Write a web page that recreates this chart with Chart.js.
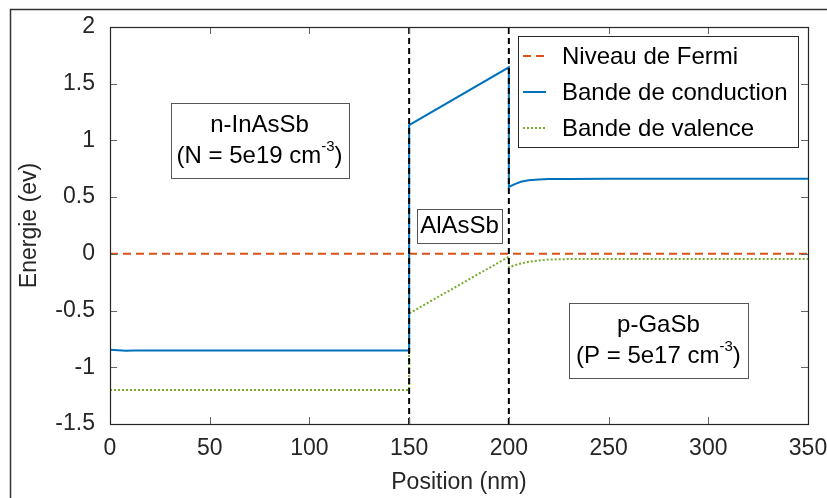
<!DOCTYPE html>
<html>
<head>
<meta charset="utf-8">
<script src="https://cdn.jsdelivr.net/npm/chart.js@4/dist/chart.umd.min.js"></script>
<style>
  html, body { margin: 0; padding: 0; background: #fff; }
  canvas { display: block; }
</style>
</head>
<body>
<canvas id="bandChart" width="827" height="498"></canvas>
<script>
// positions (nm) and energies (eV)
var fermiX = [0, 350];
var fermiY = [0, 0];

var condX = [0, 4, 8, 12, 150, 150, 200, 200, 203, 206, 210, 215, 220, 230, 250, 350];
var condY = [-0.845, -0.85, -0.855, -0.852, -0.852, 1.135, 1.645, 0.59, 0.615, 0.635, 0.648, 0.655, 0.659, 0.661, 0.662, 0.662];

var valX = [0, 150, 150, 200, 200, 203, 206, 210, 215, 220, 230, 250, 350];
var valY = [-1.2, -1.2, -0.525, -0.025, -0.12, -0.1, -0.085, -0.07, -0.058, -0.05, -0.046, -0.045, -0.045];

var interfaces = [150, 200];

var xTicksStep = 50;
var yTicksStep = 0.5;

var FONT = '"Liberation Sans", Arial, Helvetica, sans-serif';
var FS = 23;   // axes
var FS2 = 24;  // legend and text boxes
var TXT = '#262626';

function pts(xs, ys) {
    return xs.map(function (x, i) { return { x: x, y: ys[i] }; });
}

var datasets = [
    {
        label: 'Niveau de Fermi', data: pts(fermiX, fermiY),
        borderColor: '#D95319', borderWidth: 2, borderDash: [8, 5], order: 3
    },
    {
        label: 'Bande de conduction', data: pts(condX, condY),
        borderColor: '#0072BD', borderWidth: 2, order: 2
    },
    {
        label: 'Bande de valence', data: pts(valX, valY),
        borderColor: '#77AC30', borderWidth: 2, borderDash: [2, 2], order: 2
    }
];
interfaces.forEach(function (xi) {
    datasets.push({
        label: '', data: [{ x: xi, y: -1.5 }, { x: xi, y: 2 }],
        borderColor: '#000', borderWidth: 2, borderDash: [6, 4], order: 0
    });
});

// text boxes placed in data coordinates
var notes = [
    { x: 75, y: 1.0, w: 178, h: 75, lines: [[['n-InAsSb', 0]], [['(N = 5e19 cm', 0], ['-3', 1], [')', 0]]] },
    { x: 175.3, y: 0.246, w: 85, h: 34, lines: [[['AlAsSb', 0]]] },
    { x: 275, y: -0.763, w: 179, h: 75, lines: [[['p-GaSb', 0]], [['(P = 5e17 cm', 0], ['-3', 1], [')', 0]]] }
];

function drawRich(ctx, segs, cx, cy) {
    var big = FS2 + 'px ' + FONT, small = '15px ' + FONT;
    var total = 0;
    segs.forEach(function (s) {
        ctx.font = s[1] ? small : big;
        total += ctx.measureText(s[0]).width;
    });
    var x = cx - total / 2;
    ctx.textAlign = 'left';
    ctx.textBaseline = 'middle';
    segs.forEach(function (s) {
        ctx.font = s[1] ? small : big;
        ctx.fillText(s[0], x, s[1] ? cy - 9 : cy);
        x += ctx.measureText(s[0]).width;
    });
}

var matlabLook = {
    id: 'matlabLook',
    beforeDraw: function (chart) {
        var ctx = chart.ctx;
        ctx.save();
        ctx.fillStyle = '#fff';
        ctx.fillRect(0, 0, chart.width, chart.height);
        ctx.strokeStyle = '#333';
        ctx.lineWidth = 1.5;
        ctx.beginPath();
        ctx.moveTo(10.5, chart.height);
        ctx.lineTo(10.5, 9.5);
        ctx.lineTo(chart.width, 9.5);
        ctx.stroke();
        ctx.restore();
    },
    afterDatasetsDraw: function (chart) {
        var ctx = chart.ctx, a = chart.chartArea;
        var xs = chart.scales.x, ys = chart.scales.y;
        ctx.save();

        // inside ticks on all four sides
        ctx.strokeStyle = '#666';
        ctx.lineWidth = 1;
        ctx.beginPath();
        xs.ticks.forEach(function (t) {
            var px = Math.round(xs.getPixelForValue(t.value)) + 0.5;
            ctx.moveTo(px, a.bottom); ctx.lineTo(px, a.bottom - 7);
            ctx.moveTo(px, a.top); ctx.lineTo(px, a.top + 7);
        });
        ys.ticks.forEach(function (t) {
            var py = Math.round(ys.getPixelForValue(t.value)) + 0.5;
            ctx.moveTo(a.left, py); ctx.lineTo(a.left + 7, py);
            ctx.moveTo(a.right, py); ctx.lineTo(a.right - 7, py);
        });
        ctx.stroke();

        // axes box
        ctx.strokeStyle = '#262626';
        ctx.lineWidth = 1.2;
        ctx.strokeRect(Math.round(a.left) + 0.5, Math.round(a.top) + 0.5,
            Math.round(a.right - a.left), Math.round(a.bottom - a.top));

        // annotation boxes
        notes.forEach(function (n) {
            var cx = xs.getPixelForValue(n.x), cy = ys.getPixelForValue(n.y);
            ctx.fillStyle = '#fff';
            ctx.fillRect(cx - n.w / 2, cy - n.h / 2, n.w, n.h);
            ctx.strokeStyle = '#555';
            ctx.lineWidth = 1;
            ctx.strokeRect(Math.round(cx - n.w / 2) + 0.5, Math.round(cy - n.h / 2) + 0.5, n.w, n.h);
            ctx.fillStyle = '#000';
            var gap = 31, y0 = cy - (n.lines.length - 1) * gap / 2;
            n.lines.forEach(function (ln, i) { drawRich(ctx, ln, cx, y0 + i * gap); });
        });

        // legend box (upper right)
        var lx = 518, ly = 36, lw = 280, lh = 111;
        ctx.fillStyle = '#fff';
        ctx.fillRect(lx, ly, lw, lh);
        ctx.strokeStyle = '#262626';
        ctx.lineWidth = 1;
        ctx.strokeRect(lx + 0.5, ly + 0.5, lw, lh);
        chart.data.datasets.forEach(function (ds, i) {
            if (!ds.label) return;
            var yy = ly + 20 + i * 36;
            ctx.strokeStyle = ds.borderColor;
            ctx.lineWidth = ds.borderWidth;
            ctx.setLineDash(ds.borderDash || []);
            ctx.beginPath();
            ctx.moveTo(lx + 5, yy); ctx.lineTo(lx + 28, yy);
            ctx.stroke();
            ctx.setLineDash([]);
            ctx.fillStyle = '#000';
            ctx.font = FS2 + 'px ' + FONT;
            ctx.textAlign = 'left';
            ctx.textBaseline = 'middle';
            ctx.fillText(ds.label, lx + 44, yy + 1);
        });
        ctx.restore();
    }
};

var ctx = document.getElementById('bandChart').getContext('2d');
var chart = new Chart(ctx, {
    type: 'line',
    data: { datasets: datasets },
    options: {
        responsive: false,
        animation: false,
        layout: { padding: { left: 0, top: 27, right: 19, bottom: 0 } },
        elements: { point: { radius: 0 }, line: { tension: 0 } },
        plugins: { legend: { display: false }, tooltip: { enabled: false } },
        scales: {
            x: {
                type: 'linear', min: 0, max: 350,
                afterFit: function (s) { s.height = 74; s.paddingRight = 0; s.paddingLeft = 0; },
                grid: { display: false, drawTicks: false },
                border: { display: false },
                ticks: { stepSize: xTicksStep, padding: 11, color: TXT, maxRotation: 0, font: { family: FONT, size: FS } },
                title: { display: true, text: 'Position (nm)', color: TXT, padding: { top: 0, bottom: 2 }, font: { family: FONT, size: FS } }
            },
            y: {
                type: 'linear', min: -1.5, max: 2,
                afterFit: function (s) { s.width = 110; s.paddingTop = 0; s.paddingBottom = 0; },
                grid: { display: false, drawTicks: false },
                border: { display: false },
                ticks: {
                    stepSize: yTicksStep, padding: 15, color: TXT, font: { family: FONT, size: FS },
                    callback: function (v) { return String(Math.round(v * 100) / 100); }
                },
                title: { display: true, text: 'Energie (ev)', color: TXT, padding: { top: 16, bottom: 0 }, font: { family: FONT, size: FS } }
            }
        }
    },
    plugins: [matlabLook]
});
</script>
</body>
</html>
